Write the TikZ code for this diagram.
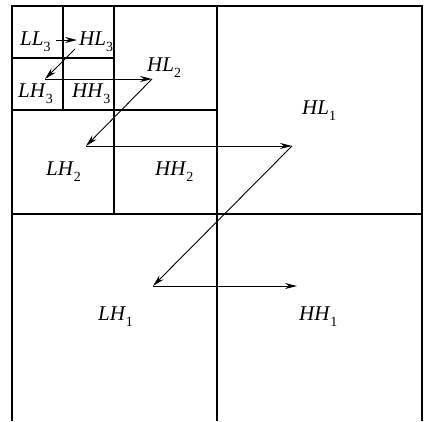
\documentclass[tikz,border=0pt]{standalone}
\usepackage{fontspec}
\setmainfont{Liberation Serif}
\usepackage{tikz}
\usetikzlibrary{arrows.meta}
\newcommand{\subband}[2]{\textit{#1}\raisebox{-6pt}{\fontsize{14}{14}\selectfont #2}}

\begin{document}
\begin{tikzpicture}[x=1pt, y=-1pt, >={Stealth[length=12pt,width=6pt]}, font=\fontsize{21}{24}\selectfont,
  grid/.style={line width=1.1pt},
  lbl/.style={anchor=base west, inner sep=0pt},
  zig/.style={->, line width=0.9pt}]
  \useasboundingbox (0,0) rectangle (425,421);
  \draw[grid] (12,421) -- (12,6) -- (422,6) -- (422,421);
  \draw[grid] (217,6) -- (217,421);
  \draw[grid] (12,214) -- (422,214);
  \draw[grid] (114,6) -- (114,214);
  \draw[grid] (12,110) -- (217,110);
  \draw[grid] (63,6) -- (63,110);
  \draw[grid] (12,58) -- (114,58);
  \node[lbl] (LL3) at (20,45) {\subband{LL}{3}};
  \node[lbl] (HL3) at (79,45) {\subband{HL}{3}};
  \node[lbl] (LH3) at (18,97) {\subband{LH}{3}};
  \node[lbl] (HH3) at (72,97) {\subband{HH}{3}};
  \node[lbl] (HL2) at (147,71) {\subband{HL}{2}};
  \node[lbl] (LH2) at (46,175) {\subband{LH}{2}};
  \node[lbl] (HH2) at (155,175) {\subband{HH}{2}};
  \node[lbl] (HL1) at (302,114) {\subband{HL}{1}};
  \node[lbl] (LH1) at (98,320) {\subband{LH}{1}};
  \node[lbl] (HH1) at (299,320) {\subband{HH}{1}};
  \coordinate (s0) at (56,40);
  \coordinate (t0) at (77,40);
  \coordinate (s3) at (75,49);
  \coordinate (t3) at (45,79);
  \coordinate (t2) at (152,79);
  \coordinate (u2) at (86,146);
  \coordinate (t1) at (292,146);
  \coordinate (u1) at (153,286);
  \coordinate (t0e) at (297,286);
  \draw[zig] (s0) -- (t0);
  \draw[zig] (s3) -- (t3);
  \draw[zig] (t3) -- (t2);
  \draw[zig] (t2) -- (u2);
  \draw[zig] (u2) -- (t1);
  \draw[zig] (t1) -- (u1);
  \draw[zig] (u1) -- (t0e);
\end{tikzpicture}
\end{document}
